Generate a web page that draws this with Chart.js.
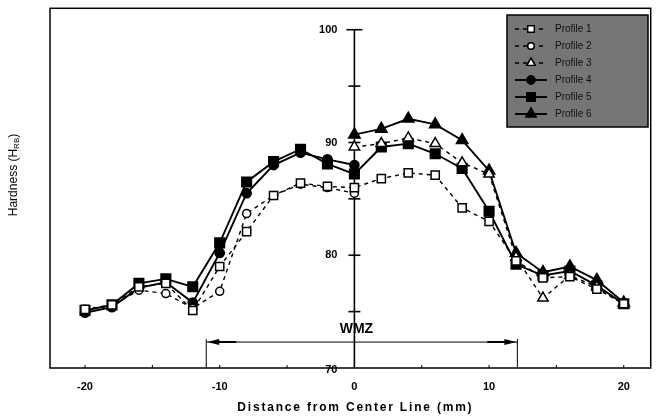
<!DOCTYPE html>
<html>
<head>
<meta charset="utf-8">
<script src="https://cdn.jsdelivr.net/npm/chart.js@4.4.1/dist/chart.umd.min.js"></script>
<style>
  html, body { margin: 0; padding: 0; background: #fff; }
</style>
</head>
<body>
<canvas id="hardnessChart" width="659" height="419"></canvas>
<script>
// distance from weld center line (mm)
const distance = [-20, -18, -16, -14, -12, -10, -8, -6, -4, -2, 0, 2, 4, 6, 8, 10, 12, 14, 16, 18, 20];

// hardness readings (HRB), null = not measured on that side
const filledSquare = [75.1, 75.6, 77.5, 77.9, 77.2, 81.1, 86.5, 88.3, 89.4, 88.1, 87.2, 89.6, 89.9, 89.0, 87.7, 83.9, 79.2, 78.2, 78.6, 77.3, 75.7];
const filledCircle = [74.9, 75.4, 77.1, 77.6, 75.8, 80.2, 85.5, 88.0, 89.1, 88.5, 88.0, null, null, null, null, null, null, null, null, null, null];
const openCircle   = [75.2, 75.5, 76.9, 76.6, 75.3, 76.8, 83.7, 85.3, 86.3, 86.0, 85.5, null, null, null, null, null, null, null, null, null, null];
const openSquare   = [75.2, 75.6, 77.2, 77.5, 75.1, 79.0, 82.1, 85.3, 86.4, 86.1, 86.0, 86.8, 87.3, 87.1, 84.2, 83.0, 79.5, 78.0, 78.1, 77.0, 75.7];
const filledTri    = [null, null, null, null, null, null, null, null, null, null, 90.7, 91.2, 92.1, 91.6, 90.2, 87.5, 80.2, 78.5, 79.0, 77.8, 75.8];
const openTri      = [null, null, null, null, null, null, null, null, null, null, 89.6, 89.9, 90.4, 89.9, 88.2, 87.2, 79.8, 76.2, 78.2, 77.2, 75.6];

const seriesLabels = ['Profile 1', 'Profile 2', 'Profile 3', 'Profile 4', 'Profile 5', 'Profile 6'];
const yTickLabels = [100, 90, 80, 70];
const wmzStart = -11.0, wmzEnd = 12.1, wmzLevel = 72.3;

function toPoints(vals) {
    return distance.map((d, i) => vals[i] === null ? null : { x: d, y: vals[i] }).filter(p => p);
}

function series(label, vals, style, radius, filled, dashed) {
    return {
        label: label,
        data: toPoints(vals),
        borderColor: '#000',
        borderWidth: dashed ? 1.4 : 1.9,
        borderDash: dashed ? [4, 4] : [],
        pointStyle: style,
        pointRadius: radius,
        pointBackgroundColor: filled ? '#000' : '#fff',
        pointBorderColor: '#000',
        pointBorderWidth: 1.5,
        fill: false,
        tension: 0
    };
}

const frameAndAxis = {
    id: 'frameAndAxis',
    beforeDatasetsDraw(chart) {
        const ctx = chart.ctx, a = chart.chartArea;
        const xs = chart.scales.x, ys = chart.scales.y;
        ctx.save();
        ctx.strokeStyle = '#000';
        ctx.lineWidth = 1.5;
        ctx.strokeRect(a.left, a.top, a.right - a.left, a.bottom - a.top);

        // small x ticks inside the bottom edge
        ctx.lineWidth = 1;
        for (let v = -20; v <= 20; v += 5) {
            const px = xs.getPixelForValue(v);
            ctx.beginPath();
            ctx.moveTo(px, a.bottom);
            ctx.lineTo(px, a.bottom - 3);
            ctx.stroke();
        }

        // central y axis
        const x0 = xs.getPixelForValue(0);
        ctx.lineWidth = 1.6;
        ctx.beginPath();
        ctx.moveTo(x0, ys.getPixelForValue(100));
        ctx.lineTo(x0, ys.getPixelForValue(70));
        ctx.stroke();
        for (let v = 75; v <= 100; v += 5) {
            const py = ys.getPixelForValue(v);
            const w = v === 100 ? 8 : 6;
            ctx.beginPath();
            ctx.moveTo(x0 - w, py);
            ctx.lineTo(x0 + w, py);
            ctx.stroke();
        }
        ctx.fillStyle = '#000';
        ctx.font = 'bold 11px "Liberation Sans", Arial, sans-serif';
        ctx.textAlign = 'right';
        ctx.textBaseline = 'middle';
        yTickLabels.forEach(v => {
            ctx.fillText(String(v), x0 - 17, ys.getPixelForValue(v) + (v === 70 ? 2 : 0));
        });

        // WMZ span
        const xl = xs.getPixelForValue(wmzStart), xr = xs.getPixelForValue(wmzEnd);
        const yw = ys.getPixelForValue(wmzLevel);
        ctx.lineWidth = 1;
        ctx.beginPath();
        ctx.moveTo(xl, yw); ctx.lineTo(xr, yw);
        ctx.moveTo(xl, yw - 3); ctx.lineTo(xl, a.bottom);
        ctx.moveTo(xr, yw - 3); ctx.lineTo(xr, a.bottom);
        ctx.stroke();
        ctx.lineWidth = 2;
        ctx.beginPath();
        ctx.moveTo(xl + 12, yw); ctx.lineTo(xl + 30, yw);
        ctx.moveTo(xr - 12, yw); ctx.lineTo(xr - 30, yw);
        ctx.stroke();
        ctx.beginPath();
        ctx.moveTo(xl + 1, yw); ctx.lineTo(xl + 13, yw - 3); ctx.lineTo(xl + 13, yw + 3); ctx.closePath();
        ctx.moveTo(xr - 1, yw); ctx.lineTo(xr - 13, yw - 3); ctx.lineTo(xr - 13, yw + 3); ctx.closePath();
        ctx.fill();
        ctx.font = 'bold 14px "Liberation Sans", Arial, sans-serif';
        ctx.textAlign = 'center';
        ctx.fillText('WMZ', x0 + 2, yw - 13);

        // axis titles
        ctx.font = 'bold 12px "Liberation Sans", Arial, sans-serif';
        ctx.letterSpacing = '1.8px';
        ctx.fillText('Distance from Center Line (mm)', x0 + 1, a.bottom + 40);
        ctx.letterSpacing = '0px';

        ctx.translate(14, 175);
        ctx.rotate(-Math.PI / 2);
        ctx.textAlign = 'left';
        const main = 'Hardness (H', sub = 'RB', tail = ')';
        ctx.font = '12px "Liberation Sans", Arial, sans-serif';
        const w1 = ctx.measureText(main).width;
        ctx.font = '8px "Liberation Sans", Arial, sans-serif';
        const w2 = ctx.measureText(sub).width;
        ctx.font = '12px "Liberation Sans", Arial, sans-serif';
        const w3 = ctx.measureText(tail).width;
        let sx = -(w1 + w2 + w3) / 2;
        ctx.fillText(main, sx, 0);
        ctx.font = '8px "Liberation Sans", Arial, sans-serif';
        ctx.fillText(sub, sx + w1, 3);
        ctx.font = '12px "Liberation Sans", Arial, sans-serif';
        ctx.fillText(tail, sx + w1 + w2, 0);
        ctx.restore();
    },
    afterDraw(chart) {
        // legend box, top right
        const ctx = chart.ctx;
        const bx = 507, by = 15, bw = 141, bh = 112;
        ctx.save();
        ctx.fillStyle = '#767676';
        ctx.fillRect(bx, by, bw, bh);
        ctx.strokeStyle = '#000';
        ctx.lineWidth = 1.5;
        ctx.strokeRect(bx, by, bw, bh);
        chart.data.datasets.forEach((ds, i) => {
            const ly = by + 14 + i * 17;
            ctx.strokeStyle = '#000';
            ctx.lineWidth = ds.borderWidth;
            ctx.setLineDash(ds.borderDash);
            ctx.beginPath();
            ctx.moveTo(bx + 8, ly); ctx.lineTo(bx + 40, ly);
            ctx.stroke();
            ctx.setLineDash([]);
            Chart.helpers.drawPoint(ctx, {
                pointStyle: ds.pointStyle, radius: ds.pointRadius * 0.8, borderWidth: 1
            }, bx + 24, ly);
            ctx.fillStyle = ds.pointBackgroundColor;
            ctx.fill();
            ctx.stroke();
            ctx.fillStyle = '#111';
            ctx.font = '10px "Liberation Sans", Arial, sans-serif';
            ctx.textBaseline = 'middle';
            ctx.fillText(ds.label, bx + 48, ly);
        });
        ctx.restore();
    }
};

document.addEventListener('DOMContentLoaded', function() {
    const ctx = document.getElementById('hardnessChart').getContext('2d');

    new Chart(ctx, {
        type: 'line',
        data: {
            datasets: [
                series(seriesLabels[0], openSquare, 'rect', 5.8, false, true),
                series(seriesLabels[1], openCircle, 'circle', 4.0, false, true),
                series(seriesLabels[2], openTri, 'triangle', 6.0, false, true),
                series(seriesLabels[3], filledCircle, 'circle', 4.6, true, false),
                series(seriesLabels[4], filledSquare, 'rect', 6.8, true, false),
                series(seriesLabels[5], filledTri, 'triangle', 6.6, true, false)
            ]
        },
        options: {
            responsive: false,
            animation: false,
            layout: { padding: { left: 50, right: 8, top: 4, bottom: 0 } },
            plugins: { legend: { display: false }, tooltip: { enabled: false } },
            scales: {
                x: {
                    type: 'linear',
                    min: -22.6,
                    max: 22,
                    grid: { display: false },
                    border: { display: false },
                    afterFit: scale => { scale.height = 51; },
                    ticks: {
                        stepSize: 5,
                        includeBounds: false,
                        autoSkip: false,
                        maxRotation: 0,
                        padding: 4,
                        color: '#000',
                        font: { family: '"Liberation Sans", Arial, sans-serif', size: 11, weight: 'bold' },
                        callback: v => (v % 10 === 0 ? String(v) : '')
                    }
                },
                y: {
                    display: false,
                    min: 70,
                    max: 101.9
                }
            }
        },
        plugins: [frameAndAxis]
    });
});
</script>
</body>
</html>
